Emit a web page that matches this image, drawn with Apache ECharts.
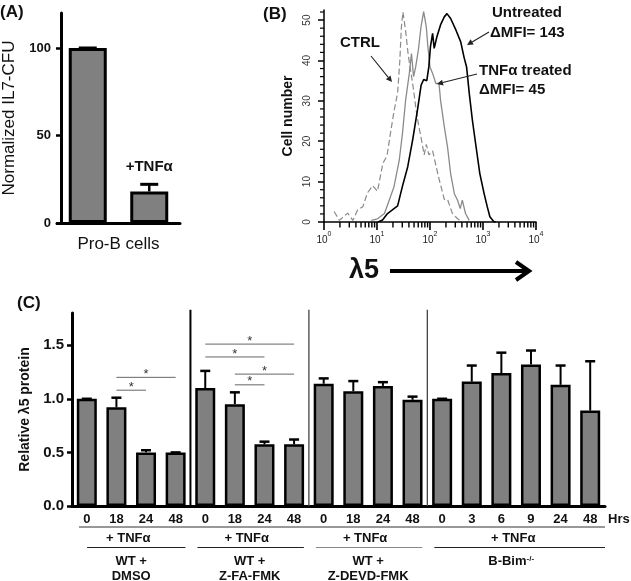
<!DOCTYPE html>
<html><head><meta charset="utf-8">
<script src="https://cdn.jsdelivr.net/npm/echarts@6/dist/echarts.min.js"></script>
<style>html,body{margin:0;padding:0;background:#fff}#c{width:631px;height:581px}</style>
</head><body><div id="c"></div>
<script>
// ---------- Panel A data ----------
const aCategories = ['Untreated', '+TNFα'];
const aValues = [100, 18];
const aErrTop = [100, 22.1];
const aTicks = [0, 50, 100];

// ---------- Panel B data (flow histograms: [λ5 intensity, cell number]) ----------
const bUntreated = [[10.5,0],[12.7,0.5],[15.8,2.1],[19.5,3.0],[24.5,4.0],[30,8.7],[38,13.7],[47,20.3],[58,27.7],[68,33.9],[76,35.3],[87,35.0],[95,38.4],[102,43.4],[112,46.7],[120,43.0],[135,45.9],[158,48.8],[186,50.8],[209,51.6],[245,50.4],[309,47.5],[380,44.6],[437,40.9],[490,38.4],[550,31.9],[631,25.2],[724,19.5],[871,12.0],[1047,7.1],[1202,3.8],[1349,1.3],[1622,0],[1750,0]];
const bTnf = [[7.8,0.4],[10.2,0.8],[13.8,2.1],[17,5.4],[20.9,8.7],[26.3,15.3],[30.2,21.9],[34.7,30.2],[40.7,36.8],[44.7,41.7],[49,36.0],[53.7,38.4],[60.3,42.6],[67.6,48.3],[75.9,52.1],[85.1,48.3],[91.2,43.4],[100,38.4],[112,36.8],[129,34.3],[148,34.3],[158,30.2],[186,23.6],[214,18.6],[245,12.0],[288,7.0],[331,5.4],[372,3.3],[407,5.4],[468,2.1],[550,0.4]];
const bCtrl = [[1.55,2.6],[1.95,0.4],[2.8,2.2],[3.5,0.4],[4.3,3.0],[5.4,3.8],[6.6,7.2],[8.3,9.0],[10.2,7.6],[12.9,14.5],[15.5,16.5],[18.2,22.5],[20.9,27.3],[24.5,32.0],[26.9,39.7],[28.8,48.2],[30.9,52.0],[34.7,47.3],[38.9,41.3],[43.7,37.0],[49,32.7],[53.7,28.5],[60.3,24.3],[67.6,21.0],[77.6,16.6],[85.1,19.2],[95.5,16.6],[112,17.6],[129,14.0],[148,10.7],[186,5.6],[214,5.6],[263,2.2],[331,0.8],[407,0]];
const bXRange = [1, 10000];
const bMinorTicks = [2,3,4,5,6,7,8,9,20,30,40,50,60,70,80,90,200,300,400,500,600,700,800,900,2000,3000,4000,5000,6000,7000,8000,9000];
const bYMinorTicks = [2,4,6,8,12,14,16,18,22,24,26,28,32,34,36,38,42,44,46,48,52];

// ---------- Panel C data ----------
const cHours = ['0','18','24','48','0','18','24','48','0','18','24','48','0','3','6','9','24','48'];
const cValues = [1.00,0.92,0.50,0.50, 1.10,0.95,0.575,0.575, 1.14,1.07,1.12,0.99, 1.00,1.16,1.24,1.32,1.13,0.89];
const cErrTop = [1.00,1.01,0.52,0.50, 1.26,1.06,0.60,0.62, 1.19,1.165,1.155,1.02, 1.00,1.31,1.43,1.45,1.31,1.35];
const cGroupSizes = [4,4,4,6];
const cTreatment = ['+ TNFα','+ TNFα','+ TNFα','+ TNFα'];
const cGroupLabels = ['WT +\nDMSO','WT +\nZ-FA-FMK','WT +\nZ-DEVD-FMK','{a|B-Bim}{s|-/-}'];
const cSig = [[1,3,1.20],[1,2,1.08],[4,7,1.51],[4,6,1.39],[5,7,1.23],[5,6,1.13]];
const cYTicks = [0,0.5,1.0,1.5];

const FONT = '"Liberation Sans", Arial, Helvetica, sans-serif';
const GRAY = '#808080';

function errRenderer(capHalf, lw){
  return function(params, api){
    const x = api.value(0), v = api.value(1), t = api.value(2);
    const p0 = api.coord([x, v]), p1 = api.coord([x, t]);
    return {type:'group', children:[
      {type:'line', shape:{x1:p0[0],y1:p0[1],x2:p1[0],y2:p1[1]}, style:{stroke:'#000',lineWidth:lw}},
      {type:'line', shape:{x1:p1[0]-capHalf,y1:p1[1],x2:p1[0]+capHalf,y2:p1[1]}, style:{stroke:'#000',lineWidth:lw+0.5}}
    ]};
  };
}

const cBoundaries = [];
cGroupSizes.reduce((acc,n,i)=>{ if(i<cGroupSizes.length-1) cBoundaries.push([acc+n,0]); return acc+n; },0);

const gridB = {left:324, top:10, width:212, height:212};
const option = {
  animation:false,
  textStyle:{fontFamily:FONT},
  grid:[
    {left:55, top:13, width:125, height:210},
    gridB,
    {left:72, top:313, width:533, height:193}
  ],
  xAxis:[
    {type:'category', gridIndex:0, data:aCategories,
     axisLine:{lineStyle:{color:'#000',width:3}},
     axisTick:{alignWithLabel:true,length:5,lineStyle:{color:'#000',width:2.5}},
     axisLabel:{show:false},
     name:'Pro-B cells', nameLocation:'middle', nameGap:13,
     nameTextStyle:{fontSize:17,color:'#111',fontFamily:FONT}},
    {type:'log', gridIndex:1, min:bXRange[0], max:bXRange[1], logBase:10,
     axisLine:{lineStyle:{color:'#000',width:1.5}},
     axisTick:{length:8,lineStyle:{color:'#000',width:1.6}},
     splitLine:{show:false},
     axisLabel:{margin:9, formatter:v=>'{b|10}{s|'+Math.round(Math.log10(v))+'}',
       rich:{b:{fontSize:10,color:'#222',fontFamily:FONT,lineHeight:14,verticalAlign:'bottom'},
             s:{fontSize:7,color:'#222',fontFamily:FONT,lineHeight:14,verticalAlign:'top'}}}},
    {type:'category', gridIndex:2, data:cHours,
     axisLine:{lineStyle:{color:'#000',width:3}},
     axisTick:{alignWithLabel:true,length:4,lineStyle:{color:'#000',width:2}},
     axisLabel:{margin:7,fontSize:13,fontWeight:'bold',color:'#111',fontFamily:FONT},
     name:'Hrs', nameLocation:'end', nameGap:3,
     nameTextStyle:{fontSize:13,fontWeight:'bold',color:'#111',verticalAlign:'top',padding:[7,0,0,0],fontFamily:FONT}}
  ],
  yAxis:[
    {type:'value', gridIndex:0, min:0, max:120, offset:-4,
     axisLine:{show:true,lineStyle:{color:'#000',width:3}},
     axisTick:{show:true,length:5,customValues:aTicks,lineStyle:{color:'#000',width:2.5}},
     axisLabel:{customValues:aTicks,margin:10,fontSize:13,fontWeight:'bold',color:'#111',fontFamily:FONT},
     splitLine:{show:false},
     name:'Normalized IL7-CFU', nameLocation:'middle', nameGap:43,
     nameTextStyle:{fontSize:17,color:'#111',fontFamily:FONT}},
    {type:'value', gridIndex:1, min:0, max:52.5, interval:10,
     axisLine:{show:true,lineStyle:{color:'#000',width:1.5}},
     axisTick:{show:true,length:6,lineStyle:{color:'#000',width:1.5}},
     axisLabel:{showMaxLabel:false,rotate:90,margin:12,fontSize:10,color:'#333',fontFamily:FONT},
     splitLine:{show:false},
     name:'Cell number', nameLocation:'middle', nameGap:29,
     nameTextStyle:{fontSize:14,fontWeight:'bold',color:'#111',fontFamily:FONT}},
    {type:'value', gridIndex:2, min:0, max:1.8,
     axisLine:{show:true,lineStyle:{color:'#000',width:3}},
     axisTick:{show:true,length:5,customValues:cYTicks,lineStyle:{color:'#000',width:2.5}},
     axisLabel:{customValues:cYTicks,margin:8,fontSize:15,fontWeight:'bold',color:'#111',fontFamily:FONT,
       formatter:v=>v.toFixed(1)},
     splitLine:{show:false},
     name:'Relative λ5 protein', nameLocation:'middle', nameGap:31,
     nameTextStyle:{fontSize:14,fontWeight:'bold',color:'#111',fontFamily:FONT}}
  ],
  series:[
    {type:'bar', xAxisIndex:0, yAxisIndex:0, barWidth:38, z:2,
     data:aValues.map((v,i)=>({value:v, label:{show:i===1}})),
     itemStyle:{color:GRAY,borderColor:'#000',borderWidth:3},
     label:{position:'top',distance:17,formatter:'{b}',fontSize:15,fontWeight:'bold',color:'#111',fontFamily:FONT}},
    {type:'custom', xAxisIndex:0, yAxisIndex:0, z:3, clip:false,
     data:aValues.map((v,i)=>[i,v,aErrTop[i]]), encode:{x:0,y:1},
     renderItem:errRenderer(9,2.5)},

    {type:'line', xAxisIndex:1, yAxisIndex:1, data:bCtrl, showSymbol:false, z:2,
     lineStyle:{color:'#8a8a8a',width:1.2,type:[6,3]}},
    {type:'line', xAxisIndex:1, yAxisIndex:1, data:bTnf, showSymbol:false, z:3,
     lineStyle:{color:'#8a8a8a',width:1.3}},
    {type:'line', xAxisIndex:1, yAxisIndex:1, data:bUntreated, showSymbol:false, z:4,
     lineStyle:{color:'#000',width:1.6}},

    {type:'bar', xAxisIndex:2, yAxisIndex:2, barWidth:20, z:2,
     data:cValues, itemStyle:{color:GRAY,borderColor:'#000',borderWidth:2.5}},
    {type:'custom', xAxisIndex:2, yAxisIndex:2, z:3, clip:false,
     data:cValues.map((v,i)=>[i,v,cErrTop[i]]), encode:{x:0,y:1},
     renderItem:errRenderer(5,2)},
    {type:'custom', xAxisIndex:2, yAxisIndex:2, z:4, clip:false,
     data:cBoundaries, encode:{x:0,y:1},
     renderItem:(params,api)=>{
       const b=api.value(0);
       const pa=api.coord([b-1,0]), pb=api.coord([b,0]);
       const x=(pa[0]+pb[0])/2, yt=api.coord([b,1.83])[1];
       const first=params.dataIndex===0;
       return {type:'line',shape:{x1:x,y1:yt,x2:x,y2:pa[1]},
         style:{stroke:first?'#000':'#444',lineWidth:first?2:1.3}};
     }},
    {type:'custom', xAxisIndex:2, yAxisIndex:2, z:4, clip:false,
     data:cSig, encode:{x:[0,1],y:2},
     renderItem:(params,api)=>{
       const p0=api.coord([api.value(0),api.value(2)]), p1=api.coord([api.value(1),api.value(2)]);
       return {type:'group',children:[
         {type:'line',shape:{x1:p0[0],y1:p0[1],x2:p1[0],y2:p1[1]},style:{stroke:'#666',lineWidth:1}},
         {type:'text',style:{text:'*',x:(p0[0]+p1[0])/2,y:p0[1]-3,textAlign:'center',textVerticalAlign:'middle',
           fontSize:13,fill:'#333',fontFamily:FONT}}
       ]};
     }}
  ]
};

const chart = echarts.init(document.getElementById('c'));
chart.setOption(option);

function txt(t,x,y,size,weight,align,vAlign,extra){
  return Object.assign({type:'text',z:100,style:Object.assign({text:t,x:x,y:y,fontSize:size,fontWeight:weight||'normal',
    fontFamily:FONT,fill:'#111',textAlign:align||'left',textVerticalAlign:vAlign||'middle'},extra||{})});
}
function ln(x1,y1,x2,y2,color,w){
  return {type:'line',z:100,shape:{x1,y1,x2,y2},style:{stroke:color,lineWidth:w}};
}
function arrow(x1,y1,x2,y2,lw,head,hw,color){
  const a=Math.atan2(y2-y1,x2-x1);
  const bx=x2-head*Math.cos(a), by=y2-head*Math.sin(a);
  const px=-Math.sin(a)*hw, py=Math.cos(a)*hw;
  return [ln(x1,y1,bx,by,color,lw),
    {type:'polygon',z:100,shape:{points:[[x2,y2],[bx+px,by+py],[bx-px,by-py]]},style:{fill:color}}];
}

const els = [];
// panel letters
els.push(txt('(A)',0,12,17,'bold'));
els.push(txt('(B)',263,14,17,'bold'));
els.push(txt('(C)',17,303,17,'bold'));

// panel B minor ticks (positions from the axes' scales)
const bY0 = chart.convertToPixel({yAxisIndex:1},0);
const bX0 = chart.convertToPixel({xAxisIndex:1},bXRange[0]);
bMinorTicks.forEach(v=>{
  const x = chart.convertToPixel({xAxisIndex:1},v);
  els.push(ln(x,bY0,x,bY0+5.5,'#000',1.4));
});
bYMinorTicks.forEach(v=>{
  const y = chart.convertToPixel({yAxisIndex:1},v);
  els.push(ln(bX0,y,bX0-4,y,'#000',1.2));
});

// panel B annotations
els.push(txt('Untreated',492,13,15,'bold'));
els.push(txt('ΔMFI= 143',490,33,15,'bold'));
els.push(txt('CTRL',340,43,15,'bold'));
els.push(txt('TNFα treated',479,71,15,'bold'));
els.push(txt('ΔMFI= 45',479,90,15,'bold'));
els.push(...arrow(371,56,392,82,1.1,6,3,'#222'));
els.push(...arrow(489,32,467,45,1.1,6,3,'#222'));
els.push(...arrow(477,74,437,84,1.1,6,3,'#222'));
els.push(txt('λ5',349,271,27,'bold'));
els.push(ln(390,271,527,271,'#000',4));
els.push({type:'polyline',z:100,shape:{points:[[516,262],[529,271],[516,280]]},style:{stroke:'#000',lineWidth:4,fill:null}});

// panel C bottom annotations (positions from the axis)
const y0 = chart.convertToPixel({yAxisIndex:2},0);
const cxp = i => chart.convertToPixel({xAxisIndex:2},i);
const half = (cxp(1)-cxp(0))/2;
const axisEnd = cxp(cHours.length-1)+half;
els.push(ln(cxp(0)-half+7, y0+21, axisEnd, y0+21, '#333', 1));
let start=0;
cGroupSizes.forEach((n,g)=>{
  const left=cxp(start)-half, right=cxp(start+n-1)+half;
  const last = g===cGroupSizes.length-1;
  const mid=(left+right)/2;
  els.push(txt(cTreatment[g], mid-3, y0+32, 13, 'bold', 'center'));
  els.push(ln(left+(g===0?15:7), y0+41.5, last?right:right-5, y0+41.5, g===2?'#888':'#222', 1));
  if (last) {
    els.push(txt(cGroupLabels[g], mid-5, y0+55, 13, 'bold', 'center', 'middle',
      {rich:{a:{fontSize:13,fontWeight:'bold',fontFamily:FONT,fill:'#111'},
             s:{fontSize:8,fontWeight:'bold',fontFamily:FONT,fill:'#111',verticalAlign:'top',lineHeight:8}}}));
  } else {
    els.push(txt(cGroupLabels[g], mid, y0+48, 13, 'bold', 'center', 'top', {lineHeight:15}));
  }
  start+=n;
});

chart.setOption({graphic:{elements:els}});
</script>
</body></html>
